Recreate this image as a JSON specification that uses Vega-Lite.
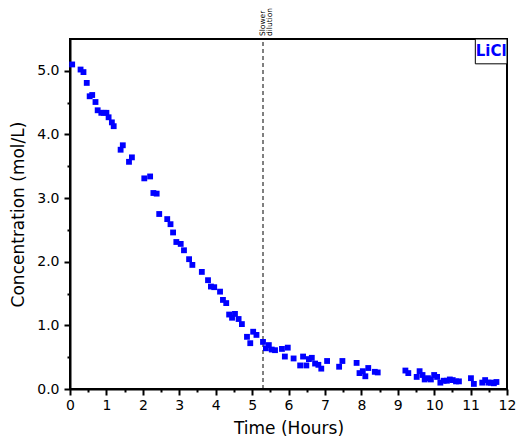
{
  "$schema": "https://vega.github.io/schema/vega-lite/v6.json",
  "width": 437,
  "height": 350,
  "autosize": {"type": "none"},
  "padding": {"left": 70, "top": 39, "right": 15, "bottom": 51},
  "background": "white",
  "config": {
    "view": {"stroke": "black", "strokeWidth": 2},
    "font": "DejaVu Sans",
    "axis": {
      "domainColor": "black", "domainWidth": 2, "tickColor": "black", "tickWidth": 2,
      "labelColor": "black", "titleColor": "black", "labelFontSize": 14, "titleFontSize": 17,
      "titleFontWeight": "normal", "grid": false, "labelOverlap": false, "labelFlush": false
    }
  },
  "datasets": {
    "main": [
      {"t":0.06,"c":5.10},{"t":0.29,"c":5.02},{"t":0.37,"c":4.98},{"t":0.46,"c":4.81},{"t":0.54,"c":4.60},
      {"t":0.61,"c":4.62},{"t":0.70,"c":4.51},{"t":0.76,"c":4.38},{"t":0.86,"c":4.34},{"t":0.93,"c":4.34},
      {"t":1.00,"c":4.34},{"t":1.06,"c":4.27},{"t":1.15,"c":4.19},{"t":1.20,"c":4.13},{"t":1.39,"c":3.76},
      {"t":1.45,"c":3.83},{"t":1.62,"c":3.57},{"t":1.70,"c":3.64},{"t":2.04,"c":3.31},{"t":2.20,"c":3.34},
      {"t":2.29,"c":3.08},{"t":2.38,"c":3.07},{"t":2.45,"c":2.75},{"t":2.67,"c":2.67},{"t":2.76,"c":2.59},
      {"t":2.83,"c":2.46},{"t":2.92,"c":2.31},{"t":3.04,"c":2.28},{"t":3.13,"c":2.18},{"t":3.27,"c":2.04},
      {"t":3.36,"c":1.95},{"t":3.62,"c":1.84},{"t":3.79,"c":1.71},{"t":3.87,"c":1.61},{"t":3.96,"c":1.60},
      {"t":4.12,"c":1.53},{"t":4.20,"c":1.40},{"t":4.29,"c":1.35},{"t":4.37,"c":1.17},{"t":4.45,"c":1.12},
      {"t":4.53,"c":1.18},{"t":4.63,"c":1.10},{"t":4.72,"c":1.02},{"t":4.86,"c":0.82},{"t":4.95,"c":0.72},
      {"t":5.03,"c":0.90},{"t":5.12,"c":0.85},{"t":5.30,"c":0.74},{"t":5.38,"c":0.64},{"t":5.46,"c":0.69},
      {"t":5.54,"c":0.62},{"t":5.63,"c":0.61},{"t":5.82,"c":0.63},{"t":5.90,"c":0.51},{"t":5.98,"c":0.65},
      {"t":6.14,"c":0.48},{"t":6.32,"c":0.37},{"t":6.40,"c":0.51},{"t":6.49,"c":0.37},{"t":6.56,"c":0.47},
      {"t":6.64,"c":0.49},{"t":6.73,"c":0.40},{"t":6.82,"c":0.38},{"t":6.90,"c":0.32},{"t":7.06,"c":0.44},
      {"t":7.39,"c":0.35},{"t":7.48,"c":0.44},{"t":7.87,"c":0.41},{"t":7.95,"c":0.25},{"t":8.04,"c":0.28},
      {"t":8.11,"c":0.20},{"t":8.19,"c":0.33},{"t":8.37,"c":0.27},{"t":8.45,"c":0.26},{"t":9.21,"c":0.29},
      {"t":9.29,"c":0.25},{"t":9.52,"c":0.19},{"t":9.60,"c":0.28},{"t":9.68,"c":0.22},{"t":9.74,"c":0.15},
      {"t":9.83,"c":0.17},{"t":9.91,"c":0.15},{"t":10.00,"c":0.22},{"t":10.08,"c":0.19},{"t":10.17,"c":0.10},
      {"t":10.26,"c":0.13},{"t":10.35,"c":0.13},{"t":10.43,"c":0.15},{"t":10.51,"c":0.14},{"t":10.60,"c":0.12},
      {"t":10.68,"c":0.12},{"t":11.01,"c":0.17},{"t":11.09,"c":0.08},{"t":11.32,"c":0.10},{"t":11.40,"c":0.14},
      {"t":11.49,"c":0.10},{"t":11.56,"c":0.10},{"t":11.64,"c":0.09},{"t":11.71,"c":0.11}
    ],
    "marker": [{"t": 5.3, "ylo": 0, "yhi": 5.5, "label": "Slower\ndilution"}],
    "tag": [{"x1": 11.13, "x2": 12, "y1": 5.11, "y2": 5.5, "xm": 11.565, "ym": 5.305, "label": "LiCl"}]
  },
  "resolve": {"axis": {"x": "independent", "y": "independent"}},
  "layer": [
    {
      "data": {"name": "marker"},
      "mark": {"type": "rule", "strokeDash": [4, 3], "strokeWidth": 1, "color": "black"},
      "encoding": {
        "x": {"field": "t", "type": "quantitative", "scale": {"domain": [0, 12], "nice": false},
          "axis": {"orient": "bottom", "values": [0.5,1.5,2.5,3.5,4.5,5.5,6.5,7.5,8.5,9.5,10.5,11.5], "labels": false, "title": null, "tickSize": 3, "domain": false}},
        "y": {"field": "ylo", "type": "quantitative", "scale": {"domain": [0, 5.5], "nice": false},
          "axis": {"orient": "left", "values": [0.5,1.5,2.5,3.5,4.5], "labels": false, "title": null, "tickSize": 3, "domain": false}},
        "y2": {"field": "yhi"}
      }
    },
    {
      "data": {"name": "marker"},
      "mark": {"type": "text", "angle": 270, "align": "left", "baseline": "middle", "fontSize": 7.5, "dx": 3, "lineHeight": 7, "lineBreak": "\n", "color": "black"},
      "encoding": {
        "x": {"field": "t", "type": "quantitative", "axis": null},
        "y": {"field": "yhi", "type": "quantitative", "axis": null},
        "text": {"field": "label"}
      }
    },
    {
      "data": {"name": "tag"},
      "mark": {"type": "rect", "fill": "white", "stroke": "black", "strokeWidth": 1},
      "encoding": {
        "x": {"field": "x1", "type": "quantitative", "axis": null},
        "x2": {"field": "x2"},
        "y": {"field": "y1", "type": "quantitative", "axis": null},
        "y2": {"field": "y2"}
      }
    },
    {
      "data": {"name": "tag"},
      "mark": {"type": "text", "color": "#0000FF", "fontWeight": "bold", "fontSize": 15, "align": "center", "baseline": "middle"},
      "encoding": {
        "x": {"field": "xm", "type": "quantitative", "axis": null},
        "y": {"field": "ym", "type": "quantitative", "axis": null},
        "text": {"field": "label"}
      }
    },
    {
      "data": {"name": "main"},
      "mark": {"type": "point", "shape": "square", "filled": true, "size": 34, "opacity": 1, "color": "#0000FF"},
      "encoding": {
        "x": {
          "field": "t", "type": "quantitative",
          "scale": {"domain": [0, 12], "nice": false},
          "axis": {
            "orient": "bottom",
            "title": "Time (Hours)",
            "values": [0,1,2,3,4,5,6,7,8,9,10,11,12],
            "format": "d",
            "tickSize": 6,
            "labelPadding": 3,
            "titlePadding": 8
          }
        },
        "y": {
          "field": "c", "type": "quantitative",
          "scale": {"domain": [0, 5.5], "nice": false},
          "axis": {
            "orient": "left",
            "title": "Concentration (mol/L)",
            "values": [0,1,2,3,4,5],
            "format": ".1f",
            "tickSize": 6,
            "labelPadding": 5,
            "titlePadding": 9
          }
        }
      }
    }
  ]
}
